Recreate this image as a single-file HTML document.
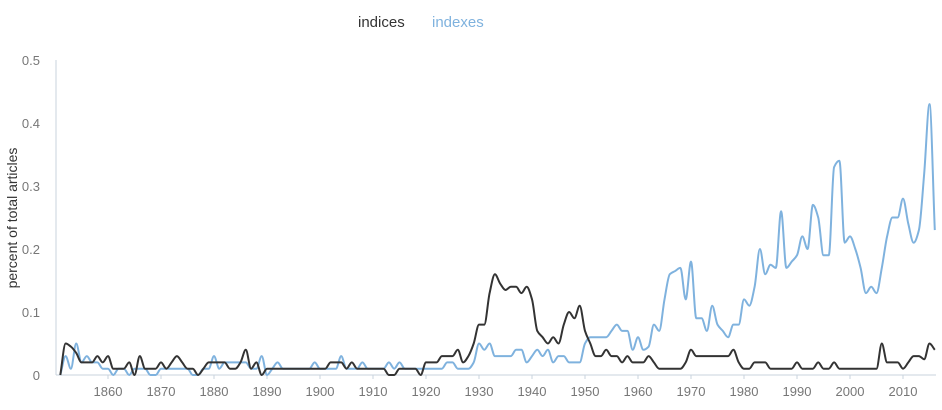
<!DOCTYPE html>
<html><head><meta charset="utf-8">
<style>
html,body{margin:0;padding:0;background:#fff;width:942px;height:410px;overflow:hidden;font-family:"Liberation Sans",sans-serif;}
svg text{font-family:"Liberation Sans",sans-serif;}
</style></head>
<body>
<svg id="chart" width="942" height="410" viewBox="0 0 942 410" xmlns="http://www.w3.org/2000/svg">
  <g>
    <text x="358" y="27" font-size="15" fill="#333">indices</text>
    <text x="432" y="27" font-size="15" fill="#7fb2de">indexes</text>
  </g>
  <text transform="translate(17,218) rotate(-90)" text-anchor="middle" font-size="14" fill="#333">percent of total articles</text>
  <g id="axes"></g>
  <g id="series"></g>
</svg>
<script>
const years = [];
for (let y = 1851; y <= 2016; y++) years.push(y);
const indices = [
0,.05,.045,.035,.02,.02,.02,.03,.02,.03,
.01,.01,.01,.02,0,.03,.01,.01,.01,.02,
.01,.02,.03,.02,.01,.01,0,.01,.02,.02,
.02,.02,.01,.01,.02,.04,.01,.02,0,.01,
.01,.01,.01,.01,.01,.01,.01,.01,.01,.01,
.01,.02,.02,.02,.01,.02,.01,.01,.01,.01,
.01,.01,0,0,.01,.01,.01,.01,0,.02,
.02,.02,.03,.03,.03,.04,.02,.03,.05,.08,
.08,.13,.16,.145,.135,.14,.14,.13,.14,.12,
.07,.06,.05,.06,.05,.08,.10,.09,.11,.07,
.05,.03,.03,.04,.03,.03,.02,.03,.02,.02,
.02,.03,.02,.01,.01,.01,.01,.01,.02,.04,
.03,.03,.03,.03,.03,.03,.03,.04,.02,.01,
.01,.02,.02,.02,.01,.01,.01,.01,.01,.02,
.01,.01,.01,.02,.01,.01,.02,.01,.01,.01,
.01,.01,.01,.01,.01,.05,.02,.02,.02,.01,
.02,.03,.03,.025,.05,.04];
const indexes = [
0,.03,.01,.05,.02,.03,.02,.02,.01,.01,
0,.01,.01,0,.01,.01,.01,0,0,.01,
.01,.01,.01,.01,.01,0,0,.01,.01,.03,
.01,.02,.02,.02,.02,.02,.01,.01,.03,0,
.01,.02,.01,.01,.01,.01,.01,.01,.02,.01,
.01,.01,.01,.03,.01,.01,.01,.02,.01,.01,
.01,.01,.02,.01,.02,.01,.01,.01,.01,.01,
.01,.01,.01,.02,.02,.01,.01,.01,.02,.05,
.04,.05,.03,.03,.03,.03,.04,.04,.02,.03,
.04,.03,.04,.02,.03,.03,.02,.02,.02,.05,
.06,.06,.06,.06,.07,.08,.07,.07,.04,.06,
.04,.045,.08,.07,.12,.16,.165,.17,.12,.18,
.09,.09,.07,.11,.08,.07,.06,.08,.08,.12,
.11,.14,.20,.16,.175,.17,.26,.17,.18,.19,
.22,.20,.27,.25,.19,.19,.33,.34,.21,.22,
.20,.17,.13,.14,.13,.17,.22,.25,.25,.28,
.24,.21,.23,.32,.43,.23];
const yTicks = [0, 0.1, 0.2, 0.3, 0.4, 0.5];
const yTickLabels = ["0", "0.1", "0.2", "0.3", "0.4", "0.5"];
const xTicks = [1860,1870,1880,1890,1900,1910,1920,1930,1940,1950,1960,1970,1980,1990,2000,2010];

const NS = "http://www.w3.org/2000/svg";
const X0 = 56, X1 = 936, Y0 = 375, Y1 = 60;
function xScale(yr){ return 108 + (yr - 1860) * 5.3; }
function yScale(v){ return Y0 - (v / 0.5) * (Y0 - Y1); }
function mk(tag, attrs, parent){ const e = document.createElementNS(NS, tag); for (const k in attrs) e.setAttribute(k, attrs[k]); parent.appendChild(e); return e; }

const axes = document.getElementById('axes');
const yl = mk('line', {x1:X0, x2:X0, y1:Y1, y2:Y0, stroke:'#c9d3de', 'stroke-width':1}, axes);


const xl = mk('line', {x1:X0, x2:X1, y1:Y0, y2:Y0, stroke:'#c9d3de', 'stroke-width':1}, axes);


yTicks.forEach((v, i) => {
  const t = mk('text', {x:40, y:yScale(v) + 5, 'text-anchor':'end', 'font-size':13, fill:'#777'}, axes);
  t.textContent = yTickLabels[i];
  
  
});
xTicks.forEach(yr => {
  const tk = mk('line', {x1:xScale(yr), x2:xScale(yr), y1:Y0, y2:Y0 + 4, stroke:'#c9d3de'}, axes);
  
  
  const t = mk('text', {x:xScale(yr), y:396, 'text-anchor':'middle', 'font-size':13, fill:'#777'}, axes);
  t.textContent = String(yr);
  
  
});

function monotonePath(pts){
  const n = pts.length; const dx = [], s = [], m = [];
  for (let i = 0; i < n - 1; i++){ dx.push(pts[i+1][0]-pts[i][0]); s.push((pts[i+1][1]-pts[i][1])/dx[i]); }
  m[0] = s[0]; m[n-1] = s[n-2];
  for (let i = 1; i < n - 1; i++){
    if (s[i-1]*s[i] <= 0) m[i] = 0;
    else { const h0 = dx[i-1], h1 = dx[i]; m[i] = 3*(h0+h1)/((2*h1+h0)/s[i-1] + (h1+2*h0)/s[i]); }
  }
  let d = 'M' + pts[0][0].toFixed(2) + ',' + pts[0][1].toFixed(2);
  for (let i = 0; i < n - 1; i++){
    const h = dx[i] / 3;
    d += 'C' + (pts[i][0]+h).toFixed(2) + ',' + (pts[i][1]+m[i]*h).toFixed(2) + ' ' +
         (pts[i+1][0]-h).toFixed(2) + ',' + (pts[i+1][1]-m[i+1]*h).toFixed(2) + ' ' +
         pts[i+1][0].toFixed(2) + ',' + pts[i+1][1].toFixed(2);
  }
  return d;
}
const series = document.getElementById('series');
const pIdx = mk('path', {d: monotonePath(years.map((y,i)=>[xScale(y), yScale(indexes[i])])), fill:'none', stroke:'#7fb2de', 'stroke-width':2}, series);


const pInd = mk('path', {d: monotonePath(years.map((y,i)=>[xScale(y), yScale(indices[i])])), fill:'none', stroke:'#333', 'stroke-width':2}, series);


</script>
</body></html>
